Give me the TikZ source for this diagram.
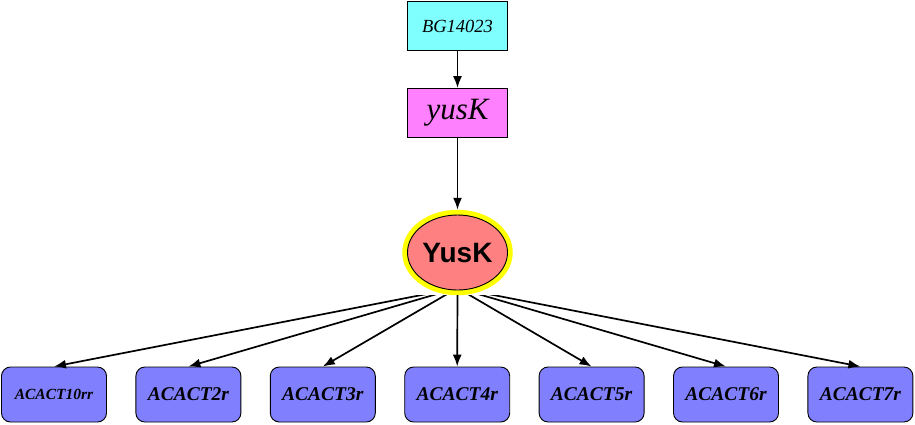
\documentclass[tikz,border=0pt]{standalone}
\usepackage{fontspec}
\setmainfont{Liberation Serif}
\newfontfamily\arialfont{Liberation Sans}
\usetikzlibrary{shapes.geometric,arrows.meta}
\definecolor{cyanfill}{RGB}{128,255,255}
\definecolor{magfill}{RGB}{255,128,255}
\definecolor{salmonfill}{RGB}{255,128,128}
\definecolor{bluefill}{RGB}{128,128,255}
\definecolor{ringyellow}{RGB}{255,255,0}
\tikzset{
  genebox/.style={draw=black, line width=0.9pt, minimum width=100, minimum height=49, inner sep=0},
  reactbox/.style={draw=black, line width=0.9pt, fill=bluefill, rounded corners=9, minimum width=105, minimum height=55, inner sep=0, font=\fontsize{19.5}{22}\selectfont\bfseries\itshape},
  conn/.style={line width=1.7pt, -{Latex[length=12pt,width=9pt]}},
}
\begin{document}
\begin{tikzpicture}[x=1pt,y=-1pt]
\useasboundingbox (0,0) rectangle (915,424);
\fill[white] (0,0) rectangle (915,424);
\node[genebox, fill=cyanfill, font=\fontsize{18.5}{20}\selectfont\itshape] (bg) at (457.5,26.3) {BG14023};
\node[genebox, fill=magfill, font=\fontsize{31}{32}\selectfont\itshape] (yusk) at (457.5,113) {yusK};
\node[ellipse, draw=ringyellow, line width=5.5pt, minimum width=105, minimum height=80, inner sep=0] (ring) at (457.5,252.5) {};
\node[ellipse, draw=black, line width=0.9pt, fill=salmonfill, minimum width=100, minimum height=75, inner sep=0, font=\arialfont\fontsize{28}{30}\selectfont\bfseries] (yk) at (457.5,252.5) {YusK};
\coordinate (hub) at (457.5,288);
\draw[conn] (bg.south) -- (yusk.north);
\draw[conn] (yusk.south) -- (ring.north);
\node[reactbox, font=\fontsize{15.5}{18}\selectfont\bfseries\itshape] (r10) at (54,394.5) {ACACT10rr};
\node[reactbox] (r2) at (188.4,394.5) {ACACT2r};
\node[reactbox] (r3) at (322.8,394.5) {ACACT3r};
\node[reactbox] (r4) at (457.2,394.5) {ACACT4r};
\node[reactbox] (r5) at (591.6,394.5) {ACACT5r};
\node[reactbox] (r6) at (726,394.5) {ACACT6r};
\node[reactbox] (r7) at (860.4,394.5) {ACACT7r};
\begin{scope}
\clip (0,295.5) rectangle (915,424);
\foreach \r in {r10,r2,r3,r4,r5,r6,r7}{
  \draw[conn] (hub) -- (\r.north);
}
\end{scope}
\end{tikzpicture}
\end{document}
